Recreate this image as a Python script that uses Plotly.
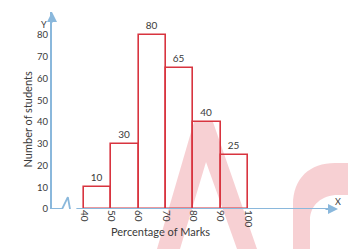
import plotly.graph_objects as go

# Data
bin_edges = [40, 50, 60, 70, 80, 90, 100]
students = [10, 30, 80, 65, 40, 25]
y_ticks = [0, 10, 20, 30, 40, 50, 60, 70, 80]
x_ticks = [40, 50, 60, 70, 80, 90, 100]

mids = [(a + b) / 2 for a, b in zip(bin_edges[:-1], bin_edges[1:])]
widths = [b - a for a, b in zip(bin_edges[:-1], bin_edges[1:])]

W, H = 348, 249
ML, MR, MT, MB = 52, 10, 12, 40
PW, PH = W - ML - MR, H - MT - MB

def px(x):
    return (x - ML) / PW

def py(y):
    return (H - MB - y) / PH

AXIS = "#8ab8dc"
RED = "#d8343f"
TXT = "#3a3a3a"
PINK = "rgba(238,150,158,0.45)"

fig = go.Figure()

fig.add_trace(go.Bar(
    x=mids, y=students, width=widths,
    marker=dict(color="rgba(0,0,0,0)", line=dict(color=RED, width=1.6)),
    text=[str(v) for v in students], textposition="outside",
    textfont=dict(color=TXT, size=10, family="Lato"),
    cliponaxis=False, hoverinfo="skip",
))

# x-axis line with break zigzag
fig.add_trace(go.Scatter(
    x=[28.3, 32.0, 34.1, 35.6, 37.5, 131],
    y=[0, 0, 5.5, -5, 0, 0],
    mode="lines", line=dict(color=AXIS, width=1.8), hoverinfo="skip",
    cliponaxis=False,
))

# watermark shapes
A = [(157, 249), (194, 122), (213, 122), (257, 249), (237, 249), (206, 162), (180, 249)]
pathA = "M " + " L ".join(f"{px(a):.4f},{py(b):.4f}" for a, b in A) + " Z"
arch_pts = [("M", [(293, 249)]), ("L", [(293, 205)]), ("C", [(293, 178), (310, 163), (335, 163)]),
            ("L", [(348, 163)]), ("L", [(348, 195)]), ("L", [(338, 195)]),
            ("C", [(322, 195), (310, 205), (310, 220)]), ("L", [(310, 249)])]
pathB = " ".join(c + " " + " ".join(f"{px(a):.4f},{py(b):.4f}" for a, b in pts) for c, pts in arch_pts) + " Z"
for p in (pathA, pathB):
    fig.add_shape(type="path", path=p, xref="paper", yref="paper",
                  fillcolor=PINK, line=dict(width=0), layer="below")

# arrows
fig.add_annotation(x=0, y=1.0, xref="paper", yref="paper", text="", showarrow=True,
                   arrowhead=2, arrowsize=1, arrowwidth=2, arrowcolor=AXIS, ax=0, ay=12)
fig.add_annotation(x=1.0, y=0, xref="paper", yref="paper", text="", showarrow=True,
                   arrowhead=2, arrowsize=1, arrowwidth=2, arrowcolor=AXIS, ax=-14, ay=0)
fig.add_annotation(x=px(39), y=py(17), xref="paper", yref="paper", text="Y", showarrow=False,
                   font=dict(size=9, color=TXT, family="Lato"))
fig.add_annotation(x=px(343), y=py(209), xref="paper", yref="paper", text="X", showarrow=False,
                   font=dict(size=9, color=TXT, family="Lato"))
fig.add_annotation(x=px(160), y=py(240), xref="paper", yref="paper", text="Percentage of Marks",
                   showarrow=False, font=dict(size=11, color=TXT, family="Lato"))
fig.add_annotation(x=px(18), y=py(120), xref="paper", yref="paper", text="Number of students",
                   showarrow=False, textangle=-90, font=dict(size=11, color=TXT, family="Lato"))

fig.update_layout(
    width=W, height=H, margin=dict(l=ML, r=MR, t=MT, b=MB),
    paper_bgcolor="white", plot_bgcolor="rgba(0,0,0,0)",
    showlegend=False, bargap=0,
    font=dict(family="Lato", color=TXT, size=9),
    xaxis=dict(range=[28.3, 132.9], tickvals=x_ticks, ticktext=[str(t) for t in x_ticks],
               tickangle=90, showgrid=False, zeroline=False, showline=False,
               ticks="", tickfont=dict(size=10, color=TXT)),
    yaxis=dict(range=[0, 90.6], tickvals=y_ticks, showgrid=False, zeroline=False,
               showline=True, linecolor=AXIS, linewidth=2, ticks="",
               tickfont=dict(size=9.5, color=TXT)),
)

fig.write_html("out.html", config={"displayModeBar": False},
               post_script="document.body.style.margin='0px';document.body.style.overflow='hidden';")
